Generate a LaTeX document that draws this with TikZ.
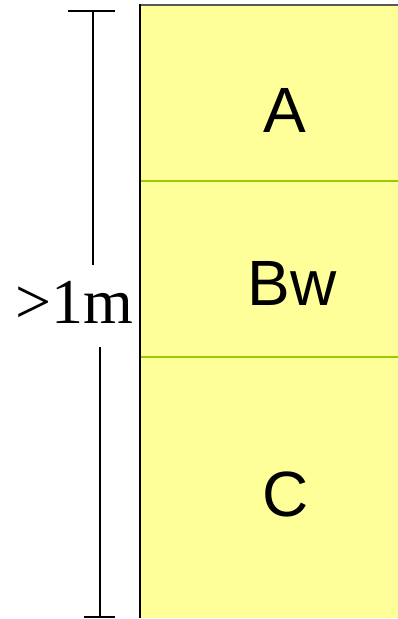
\documentclass[tikz,border=0pt]{standalone}
\usepackage{fontspec}
\setmainfont{Liberation Serif}
\newfontfamily\horizonfont{Liberation Sans}
\usetikzlibrary{positioning,calc}
\definecolor{soilyellow}{RGB}{255,255,153}
\definecolor{horizongreen}{RGB}{153,204,0}

\tikzset{
  horizon/.style={font=\horizonfont\fontsize{64}{64}\selectfont, anchor=base},
  depthlabel/.style={font=\fontsize{64}{64}\selectfont, anchor=base},
  bracketline/.style={line width=1.5pt, black}
}

\begin{document}
\begin{tikzpicture}[x=1pt, y=-1pt]
        \useasboundingbox (0,0) rectangle (398,619);
        % soil profile
        \fill[soilyellow] (140,5) rectangle (398,618);
        \draw[horizongreen, line width=2pt] (140,181) -- (398,181);
        \draw[horizongreen, line width=2pt] (140,357) -- (398,357);
        \draw[gray!70!black, line width=1.5pt] (140,5) -- (398,5);
        \draw[black, line width=2pt] (140,4) -- (140,618);
        \node[horizon] (hA) at (285,132) {A};
        \node[horizon] (hBw) at (292,305) {Bw};
        \node[horizon] (hC) at (286,516) {C};
        % depth bracket
        \node[depthlabel] (depth) at (74,323) {>1m};
        \coordinate (topL) at (68,11);
        \coordinate (topR) at (115,11);
        \coordinate (topM) at (93,11);
        \coordinate (upEnd) at (93,265);
        \coordinate (botL) at (84,617);
        \coordinate (botR) at (115,617);
        \coordinate (botM) at (100,617);
        \coordinate (lowEnd) at (100,347);
        \draw[bracketline] (topL) -- (topR);
        \draw[bracketline] (topM) -- (upEnd);
        \draw[bracketline] (botL) -- (botR);
        \draw[bracketline] (botM) -- (lowEnd);
    \end{tikzpicture}
\end{document}
